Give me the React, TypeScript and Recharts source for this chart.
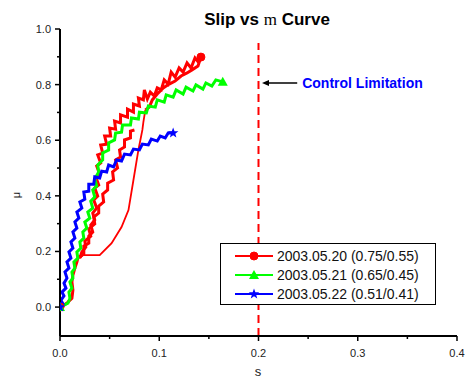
import { LineChart, Line, XAxis, YAxis, ReferenceLine, Legend } from "recharts";

// [slip, mu] pairs; the 05.20 run is split where the trace changes character
const run0520Rise: [number, number][] = [
  [0, 0], [0.004, 0.007], [0.008, 0.018], [0.012, 0.032], [0.013, 0.061], [0.012, 0.09],
  [0.013, 0.115], [0.015, 0.14], [0.017, 0.162], [0.018, 0.176],
  [0.024, 0.191], [0.024, 0.219], [0.029, 0.23], [0.029, 0.255], [0.033, 0.27], [0.031, 0.295],
  [0.035, 0.313], [0.033, 0.338], [0.037, 0.356], [0.034, 0.385], [0.038, 0.399], [0.035, 0.428],
  [0.039, 0.439], [0.036, 0.468], [0.04, 0.478], [0.037, 0.507], [0.041, 0.518],
  [0.038, 0.547], [0.043, 0.554], [0.041, 0.583], [0.047, 0.586], [0.045, 0.615], [0.051, 0.615],
  [0.05, 0.644], [0.056, 0.64], [0.055, 0.669], [0.061, 0.662], [0.061, 0.691], [0.068, 0.683],
  [0.068, 0.712], [0.074, 0.701], [0.074, 0.73], [0.08, 0.723], [0.079, 0.752], [0.084, 0.745],
  [0.085, 0.781],
  [0.088, 0.748], [0.091, 0.773], [0.095, 0.759], [0.098, 0.788], [0.102, 0.781], [0.105, 0.817],
  [0.109, 0.802], [0.112, 0.845], [0.116, 0.827], [0.12, 0.86], [0.124, 0.845], [0.128, 0.878],
  [0.132, 0.86], [0.136, 0.896], [0.14, 0.878], [0.142, 0.899],
  [0.139, 0.867], [0.133, 0.853], [0.128, 0.842], [0.122, 0.831], [0.116, 0.813], [0.11, 0.802],
  [0.104, 0.788], [0.098, 0.766], [0.093, 0.745], [0.09, 0.719], [0.086, 0.709],
];
const run0520Return: [number, number][] = [
  [0.086, 0.709], [0.084, 0.665], [0.083, 0.637], [0.079, 0.565], [0.074, 0.457], [0.069, 0.349],
  [0.062, 0.288], [0.052, 0.23], [0.04, 0.187], [0.023, 0.187], [0.02, 0.176],
];
const run0520Second: [number, number][] = [
  [0.02, 0.176], [0.022, 0.198], [0.026, 0.216], [0.025, 0.237], [0.031, 0.255], [0.029, 0.281],
  [0.035, 0.299], [0.034, 0.324], [0.039, 0.338], [0.039, 0.363], [0.044, 0.378], [0.043, 0.406],
  [0.048, 0.421], [0.048, 0.446], [0.054, 0.457], [0.053, 0.486], [0.058, 0.5], [0.056, 0.529],
  [0.061, 0.54], [0.06, 0.565], [0.065, 0.576], [0.065, 0.601], [0.071, 0.608], [0.071, 0.633],
  [0.075, 0.637],
];

const run0521: [number, number][] = [
  [0, 0], [0.004, 0.007], [0.008, 0.014], [0.01, 0.032], [0.009, 0.054], [0.012, 0.068],
  [0.01, 0.09], [0.013, 0.104], [0.012, 0.126], [0.015, 0.14], [0.014, 0.162], [0.018, 0.176],
  [0.017, 0.198], [0.021, 0.212], [0.02, 0.234], [0.024, 0.248], [0.023, 0.27], [0.027, 0.284],
  [0.025, 0.306], [0.03, 0.32], [0.028, 0.342], [0.033, 0.356], [0.031, 0.381], [0.035, 0.396],
  [0.033, 0.421], [0.037, 0.435], [0.035, 0.46], [0.039, 0.486], [0.038, 0.511], [0.043, 0.529],
  [0.043, 0.554], [0.049, 0.565], [0.049, 0.59], [0.055, 0.601], [0.056, 0.626], [0.062, 0.629],
  [0.063, 0.655], [0.071, 0.655], [0.072, 0.68], [0.079, 0.676], [0.08, 0.701], [0.087, 0.698],
  [0.089, 0.723], [0.096, 0.719], [0.098, 0.745], [0.105, 0.737], [0.107, 0.763], [0.114, 0.755],
  [0.117, 0.781], [0.124, 0.766], [0.127, 0.791], [0.134, 0.777], [0.137, 0.799], [0.144, 0.784],
  [0.147, 0.806], [0.153, 0.795], [0.157, 0.817], [0.164, 0.81],
];

const run0522: [number, number][] = [
  [0, 0], [0.003, 0.011], [0.001, 0.025], [0.004, 0.04], [0.002, 0.054], [0.006, 0.068],
  [0.004, 0.086], [0.007, 0.104], [0.005, 0.126], [0.009, 0.14], [0.007, 0.162], [0.011, 0.176],
  [0.009, 0.198], [0.013, 0.212], [0.011, 0.234], [0.015, 0.248], [0.013, 0.27], [0.017, 0.284],
  [0.015, 0.306], [0.019, 0.32], [0.017, 0.342], [0.022, 0.356], [0.02, 0.378], [0.025, 0.388],
  [0.024, 0.414], [0.029, 0.417], [0.029, 0.442], [0.034, 0.442], [0.035, 0.468], [0.04, 0.464],
  [0.042, 0.489], [0.047, 0.486], [0.049, 0.511], [0.054, 0.504], [0.057, 0.529], [0.062, 0.525],
  [0.065, 0.55], [0.071, 0.547], [0.074, 0.568], [0.08, 0.565], [0.083, 0.586], [0.089, 0.583],
  [0.092, 0.604], [0.098, 0.597], [0.101, 0.615], [0.106, 0.608], [0.109, 0.626], [0.114, 0.626],
];

const seriesNames = ["2003.05.20 (0.75/0.55)", "2003.05.21 (0.65/0.45)", "2003.05.22 (0.51/0.41)"];
const xTicks = [0, 0.05, 0.1, 0.15, 0.2, 0.25, 0.3, 0.35, 0.4];
const yTicks = [0, 0.1, 0.2, 0.3, 0.4, 0.5, 0.6, 0.7, 0.8, 0.9, 1.0];
const controlSlip = 0.2;

const FONT = '"Liberation Sans", Arial, sans-serif';
const RED = "#ff0000";
const GREEN = "#00ff00";
const BLUE = "#0000ff";

const toRows = (pts: [number, number][]) => pts.map(([s, mu]) => ({ s, mu }));

const Marker = ({ kind, x, y, color }: { kind: string; x: number; y: number; color: string }) => {
  if (kind === "circle") return <circle cx={x} cy={y} r={4} fill={color} stroke={color} />;
  if (kind === "triangle")
    return <polygon points={`${x},${y - 5} ${x - 5},${y + 4} ${x + 5},${y + 4}`} fill={color} />;
  const pts: string[] = [];
  for (let i = 0; i < 10; i++) {
    const r = i % 2 === 0 ? 5.5 : 2.3;
    const a = -Math.PI / 2 + (i * Math.PI) / 5;
    pts.push(`${x + r * Math.cos(a)},${y + r * Math.sin(a)}`);
  }
  return <polygon points={pts.join(" ")} fill={color} />;
};

const makeDot = (kind: string, color: string, markIdx: number) => (props: any) => {
  const { cx, cy, index } = props;
  if ((index !== 0 && index !== markIdx) || cx == null) return <g key={`d${index}`} />;
  return <Marker key={`d${index}`} kind={kind} x={cx} y={cy} color={color} />;
};

const XTick = (props: any) => {
  const { x, y, payload } = props;
  const v = payload.value;
  const major = Math.abs(Math.round(v * 10) - v * 10) < 1e-6;
  return (
    <g>
      <line x1={x} x2={x} y1={y} y2={y + (major ? 5 : 3)} stroke="#000" strokeWidth={1.5} />
      {major && (
        <text x={x} y={y + 21} textAnchor="middle" fontSize={11} fontFamily={FONT} fill="#222">
          {v.toFixed(1)}
        </text>
      )}
    </g>
  );
};

const YTick = (props: any) => {
  const { x, y, payload } = props;
  const v = payload.value;
  const major = Math.round(v * 10) % 2 === 0;
  return (
    <g>
      <line x1={x} x2={x - (major ? 5 : 3)} y1={y} y2={y} stroke="#000" strokeWidth={1.5} />
      {major && (
        <text x={x - 9} y={y + 4} textAnchor="end" fontSize={11} fontFamily={FONT} fill="#222">
          {v.toFixed(1)}
        </text>
      )}
    </g>
  );
};

const legendItems = [
  { name: seriesNames[0], color: RED, kind: "circle" },
  { name: seriesNames[1], color: GREEN, kind: "triangle" },
  { name: seriesNames[2], color: BLUE, kind: "star" },
];

const LegendBox = () => (
  <div
    style={{
      border: "1.5px solid #000",
      background: "#fff",
      width: 214,
      height: 58,
      boxSizing: "content-box",
      paddingTop: 2,
      fontFamily: FONT,
    }}
  >
    {legendItems.map((it) => (
      <div key={it.name} style={{ display: "flex", alignItems: "center", height: 19 }}>
        <svg width={56} height={14} style={{ display: "block" }}>
          <line x1={14} x2={52} y1={7} y2={7} stroke={it.color} strokeWidth={2} />
          <Marker kind={it.kind} x={33} y={7} color={it.color} />
        </svg>
        <span style={{ fontSize: 14, color: "#111", whiteSpace: "nowrap" }}>{it.name}</span>
      </div>
    ))}
  </div>
);

const ArrowNote = (props: any) => {
  const { x1, y1, x2, y2 } = props;
  const left = Math.min(x1, x2);
  const right = Math.max(x1, x2);
  return (
    <g>
      <line x1={right} y1={y1} x2={left + 4} y2={y2} stroke="#000" strokeWidth={1.5} />
      <polygon points={`${left},${y1} ${left + 7},${y1 - 3} ${left + 7},${y1 + 3}`} fill="#000" />
      <text x={right + 5} y={y1 + 5} fontSize={14} fontWeight="bold" fontFamily={FONT} fill={BLUE}>
        Control Limitation
      </text>
    </g>
  );
};

const maxSlipIndex = (pts: [number, number][]) =>
  pts.reduce((best, p, i) => (p[0] > pts[best][0] ? i : best), 0);

const lineBase = { dataKey: "mu", type: "linear" as const, activeDot: false, isAnimationActive: false };

export default function App() {
  return (
    <div style={{ width: 469, height: 381, position: "relative" }}>
      <style>{`body{margin:0;background:#fff}`}</style>
      <LineChart width={469} height={381} margin={{ top: 29, right: 12, left: 0, bottom: 0 }}>
        <text x={267} y={25} textAnchor="middle" fontSize={17} fontWeight="bold" fontFamily={FONT} fill="#000">
          Slip vs <tspan fontFamily='"Liberation Serif", serif' fontWeight="normal">m</tspan> Curve
        </text>
        <text x={20} y={195} transform="rotate(-90 20 195)" textAnchor="middle" fontSize={11} fontFamily={FONT} fill="#222">
          μ
        </text>
        <text x={258} y={376} textAnchor="middle" fontSize={13} fontFamily={FONT} fill="#222">
          s
        </text>
        <XAxis
          type="number"
          dataKey="s"
          domain={[0, 0.4]}
          ticks={xTicks}
          interval={0}
          allowDataOverflow
          height={45}
          tickSize={0}
          tickMargin={0}
          tickLine={false}
          tick={<XTick />}
          axisLine={{ stroke: "#000", strokeWidth: 2 }}
        />
        <YAxis
          type="number"
          dataKey="mu"
          domain={[-0.104, 1.0]}
          ticks={yTicks}
          interval={0}
          allowDataOverflow
          width={60}
          tickSize={0}
          tickMargin={0}
          tickLine={false}
          tick={<YTick />}
          axisLine={{ stroke: "#000", strokeWidth: 2 }}
        />
        <ReferenceLine
          segment={[{ x: controlSlip, y: -0.104 }, { x: controlSlip, y: 0.95 }]}
          stroke={RED}
          strokeWidth={2}
          strokeDasharray="8 5"
        />
        <ReferenceLine
          segment={[{ x: 0.2035, y: 0.806 }, { x: 0.239, y: 0.806 }]}
          shape={<ArrowNote />}
        />
        <Line {...lineBase} data={toRows(run0520Return)} stroke={RED} strokeWidth={1.8} dot={false} />
        <Line {...lineBase} data={toRows(run0520Second)} stroke={RED} strokeWidth={3} dot={false} />
        <Line
          {...lineBase}
          data={toRows(run0520Rise)}
          stroke={RED}
          strokeWidth={3}
          dot={makeDot("circle", RED, maxSlipIndex(run0520Rise))}
        />
        <Line
          {...lineBase}
          data={toRows(run0521)}
          stroke={GREEN}
          strokeWidth={3}
          dot={makeDot("triangle", GREEN, run0521.length - 1)}
        />
        <Line
          {...lineBase}
          data={toRows(run0522)}
          stroke={BLUE}
          strokeWidth={3}
          dot={makeDot("star", BLUE, run0522.length - 1)}
        />
        <Legend
          layout="vertical"
          align="center"
          verticalAlign="middle"
          content={() => <LegendBox />}
          wrapperStyle={{ position: "absolute", left: 220, top: 243, width: "auto" }}
        />
      </LineChart>
    </div>
  );
}
